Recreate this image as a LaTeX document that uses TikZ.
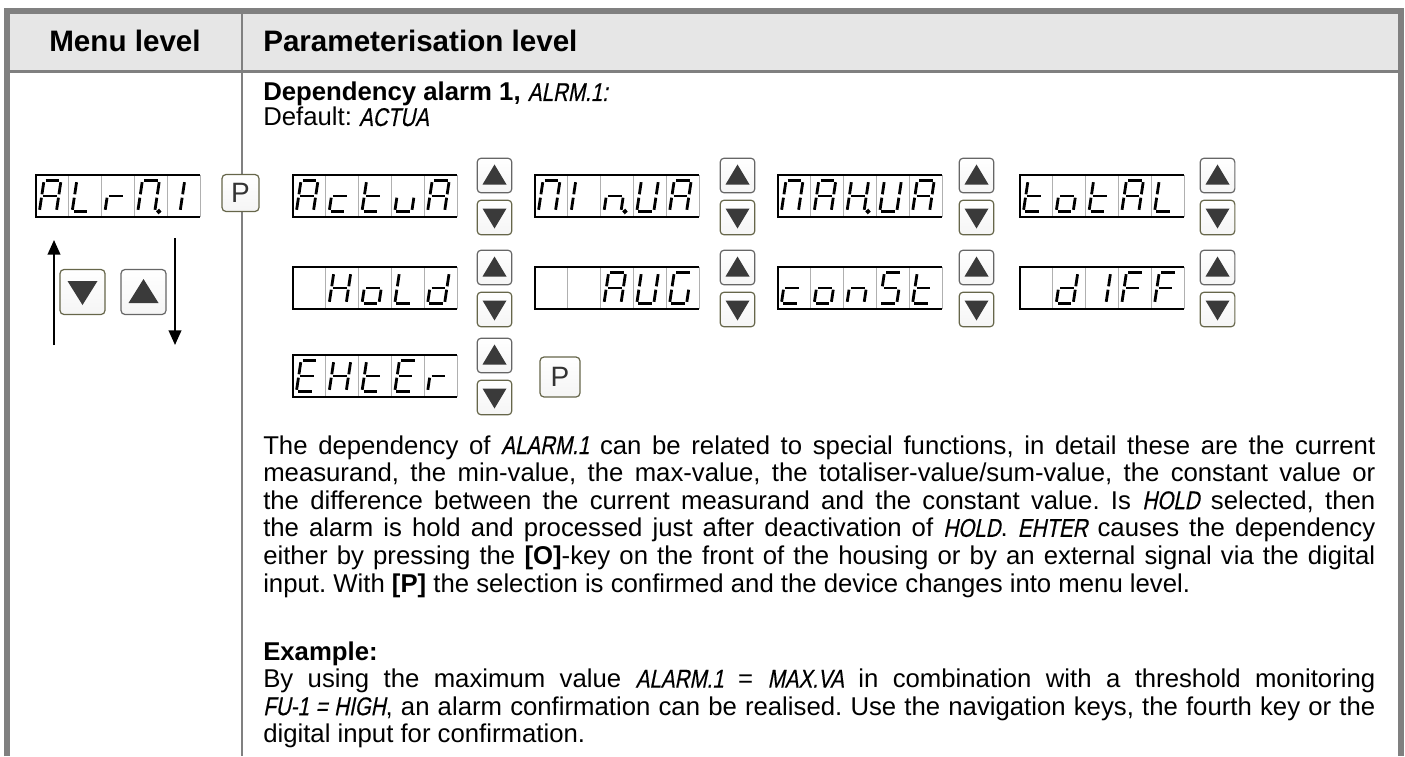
\documentclass[tikz,border=0pt]{standalone}
\usepackage{fontspec}
\setmainfont{Liberation Sans}
\newfontfamily\lcdfont[FakeStretch=0.8,FakeSlant=0.2,FakeBold=0.4]{Liberation Sans}
\usetikzlibrary{arrows.meta}
\usepackage{xcolor}
\definecolor{framegrey}{HTML}{808080}
\definecolor{headfill}{HTML}{E6E6E6}
\definecolor{cellline}{HTML}{B0B0B0}
\definecolor{keydark}{HTML}{3A3A3A}
\definecolor{keyrim}{HTML}{666666}
\definecolor{keyolive}{HTML}{66664A}
\frenchspacing

% segment sets of the display characters
\newcommand{\sgA}{a,b,c,e,f,g}
\newcommand{\sgL}{d,e,f}
\newcommand{\sgr}{e,g}
\newcommand{\sgM}{a,b,c,e,f}
\newcommand{\sgOne}{h,k}
\newcommand{\sgc}{d,e,g}
\newcommand{\sgt}{d,e,f,g}
\newcommand{\sgu}{c,d,e}
\newcommand{\sgIl}{e,f}
\newcommand{\sgIr}{b,c}
\newcommand{\sgn}{c,e,g}
\newcommand{\sgU}{b,c,d,e,f}
\newcommand{\sgH}{b,c,e,f,g}
\newcommand{\sgo}{c,d,e,g}
\newcommand{\sgd}{b,c,d,e,g}
\newcommand{\sgG}{a,c,d,e,f}
\newcommand{\sgS}{a,c,d,f,g}
\newcommand{\sgF}{a,e,f,g}
\newcommand{\sgE}{a,d,e,f,g}
\newcommand{\sgz}{z}

\newcommand{\lcdtxt}[1]{{\lcdfont #1}}

% display: name, top-left corner, five cells
\newcommand{\lcd}[3]{%
  \node[lcdbox] (#1) at (#2) {};
  \begin{scope}[shift={(#1.north west)}]
    \foreach \k in {1,...,5} \draw[lcdsep] (\k*32.8,0) -- (\k*32.8,42);
    \draw[lcdframe] (164,0) -- (0,0) -- (0,42) -- (164,42);
  \end{scope}
  \foreach \cell [count=\i] in {#3} {
    \edef\lcdsegs{\cell}
    \begin{scope}[shift={(#1.north west)}, shift={(\i*32.8-18.6,21)}, xslant=0.15]
      \foreach \s in \lcdsegs \draw[segline, seg \s];
    \end{scope}
  }}

\begin{document}
\begin{tikzpicture}[x=0.75pt, y=-0.75pt,
    lcdbox/.style={anchor=north west, minimum width=123pt, minimum height=31.5pt,
      inner sep=0pt},
    lcdsep/.style={draw=cellline, line width=0.6pt},
    lcdframe/.style={draw=black, line width=0.8pt},
    segline/.style={line width=2.1pt, line cap=butt},
    seg a/.style={insert path={(-6.8,-15.5) -- (6.8,-15.5)}},
    seg b/.style={insert path={(8.5,-13.8) -- (8.5,-1.7)}},
    seg c/.style={insert path={(8.5,1.7) -- (8.5,13.8)}},
    seg d/.style={insert path={(-6.8,15.5) -- (6.8,15.5)}},
    seg e/.style={insert path={(-8.5,1.7) -- (-8.5,13.8)}},
    seg f/.style={insert path={(-8.5,-13.8) -- (-8.5,-1.7)}},
    seg g/.style={insert path={(-6.8,0) -- (6.8,0)}},
    seg h/.style={insert path={(1,-13.8) -- (1,-1.7)}},
    seg k/.style={insert path={(1,1.7) -- (1,13.8)}},
    seg p/.style={insert path={(12.5,15.5) circle[radius=0.8]}, fill},
    seg z/.style={},
    btn/.style={rectangle, rounded corners=3pt, draw=keyrim, line width=0.9pt,
      top color=white, bottom color=black!4, minimum size=26pt, inner sep=0pt},
    bigbtn/.style={btn, minimum size=33.75pt},
    pbtn/.style={btn, draw=keyolive, font=\fontsize{21}{21}\selectfont,
      text=black!80},
    navarrow/.style={-{Triangle[length=11pt, width=9.5pt]}, line width=1.4pt},
    headtxt/.style={font=\fontsize{22.2}{26}\selectfont\bfseries, inner sep=0pt},
    bodytxt/.style={font=\fontsize{19.3}{20.7}\selectfont, inner sep=0pt,
      anchor=base west},
    para/.style={bodytxt, text width=834pt, align=justify},
  ]
  \useasboundingbox (0,0) rectangle (1405,756);

  % table frame
  \fill[headfill] (9,14) rectangle (1398,70);
  \draw[framegrey, line width=2.25pt] (9,71.5) -- (1398,71.5);
  \draw[framegrey, line width=1.9pt] (242,14) -- (242,756);
  \draw[framegrey, line width=4.5pt] (6.5,756) -- (6.5,11) -- (1401,11) -- (1401,756);

  \node[headtxt, anchor=base] (hmenu) at (125,52) {Menu level};
  \node[headtxt, anchor=base west] (hpar) at (263,52) {Parameterisation level};

  % menu level
  \lcd{mdisp}{36,175}{\sgA,\sgL,\sgr,{\sgM,p},\sgOne}
  \node[pbtn, minimum size=27.75pt] (pm) at (240.5,193) {P};
  \node[bigbtn, draw=keyolive] (mdn) at (82.5,292) {};
  \node[bigbtn] (mup) at (143.5,292) {};
  \fill[keydark] ([shift={(-15,-11)}]mdn.center) -- ([shift={(15,-11)}]mdn.center)
    -- ([shift={(0,13)}]mdn.center) -- cycle;
  \fill[keydark] ([shift={(-15,11)}]mup.center) -- ([shift={(15,11)}]mup.center)
    -- ([shift={(0,-13)}]mup.center) -- cycle;
  \coordinate (ua) at (54,345);
  \coordinate (ub) at (54,240);
  \coordinate (da) at (175,238);
  \coordinate (db) at (175,345);
  \draw[navarrow] (ua) -- (ub);
  \draw[navarrow] (da) -- (db);

  % parameterisation level
  \node[bodytxt] (title) at (263,101) {\textbf{Dependency alarm 1,} \lcdtxt{ALRM.1:}};
  \node[bodytxt] (dflt) at (263,126) {Default: \lcdtxt{ACTUA}};

  \lcd{actua}{293,175}{\sgA,\sgc,\sgt,\sgu,\sgA}
  \lcd{minua}{535,175}{\sgM,\sgIl,{\sgn,p},\sgU,\sgA}
  \lcd{mahua}{778,175}{\sgM,\sgA,{\sgH,p},\sgU,\sgA}
  \lcd{total}{1020,175}{\sgt,\sgo,\sgt,\sgA,\sgL}
  \lcd{hold}{293,267}{\sgz,\sgH,\sgo,\sgL,\sgd}
  \lcd{aug}{535,267}{\sgz,\sgz,\sgA,\sgU,\sgG}
  \lcd{const}{778,267}{\sgc,\sgo,\sgn,\sgS,\sgt}
  \lcd{diff}{1020,267}{\sgz,\sgd,\sgIr,\sgF,\sgF}
  \lcd{ehter}{293,355}{\sgE,\sgH,\sgt,\sgE,\sgr}

  \foreach \kx/\ky [count=\n] in {494.5/196, 737.5/196, 976.5/196, 1217.5/196,
      494.5/288, 737.5/288, 976.5/288, 1217.5/288, 494.5/376} {
    \node[btn] (up\n) at (\kx,\ky-20.5) {};
    \node[btn, draw=keyolive] (dn\n) at (\kx,\ky+21.5) {};
    \fill[keydark] ([shift={(-12,9)}]up\n.center) -- ([shift={(12,9)}]up\n.center)
      -- ([shift={(0,-11)}]up\n.center) -- cycle;
    \fill[keydark] ([shift={(-12,-9)}]dn\n.center) -- ([shift={(12,-9)}]dn\n.center)
      -- ([shift={(0,11)}]dn\n.center) -- cycle;
  }
  \node[pbtn, minimum size=30pt] (pe) at (560,377) {P};

  \node[para] (desc) at (263,454) {The dependency of \lcdtxt{ALARM.1} can be related
    to special functions, in detail these are the current\linebreak
    measurand, the min-value, the max-value, the totaliser-value/sum-value, the
    constant value or\linebreak
    the difference between the current measurand and the constant value. Is
    \lcdtxt{HOLD} selected, then\linebreak
    the alarm is hold and processed just after deactivation of \lcdtxt{HOLD}.
    \lcdtxt{EHTER} causes the dependency\linebreak
    either by pressing the \textbf{[O]}-key on the front of the housing or by an
    external signal via the digital\linebreak
    input. With \textbf{[P]} the selection is confirmed and the device changes into
    menu level.};

  \node[para] (expl) at (263,660) {\textbf{Example:}\\
    By using the maximum value \lcdtxt{ALARM.1} = \lcdtxt{MAX.VA} in combination
    with a threshold monitoring\linebreak
    \lcdtxt{FU-1 = HIGH}, an alarm confirmation can be realised. Use the navigation
    keys, the fourth key or the\linebreak
    digital input for confirmation.};
\end{tikzpicture}
\end{document}
